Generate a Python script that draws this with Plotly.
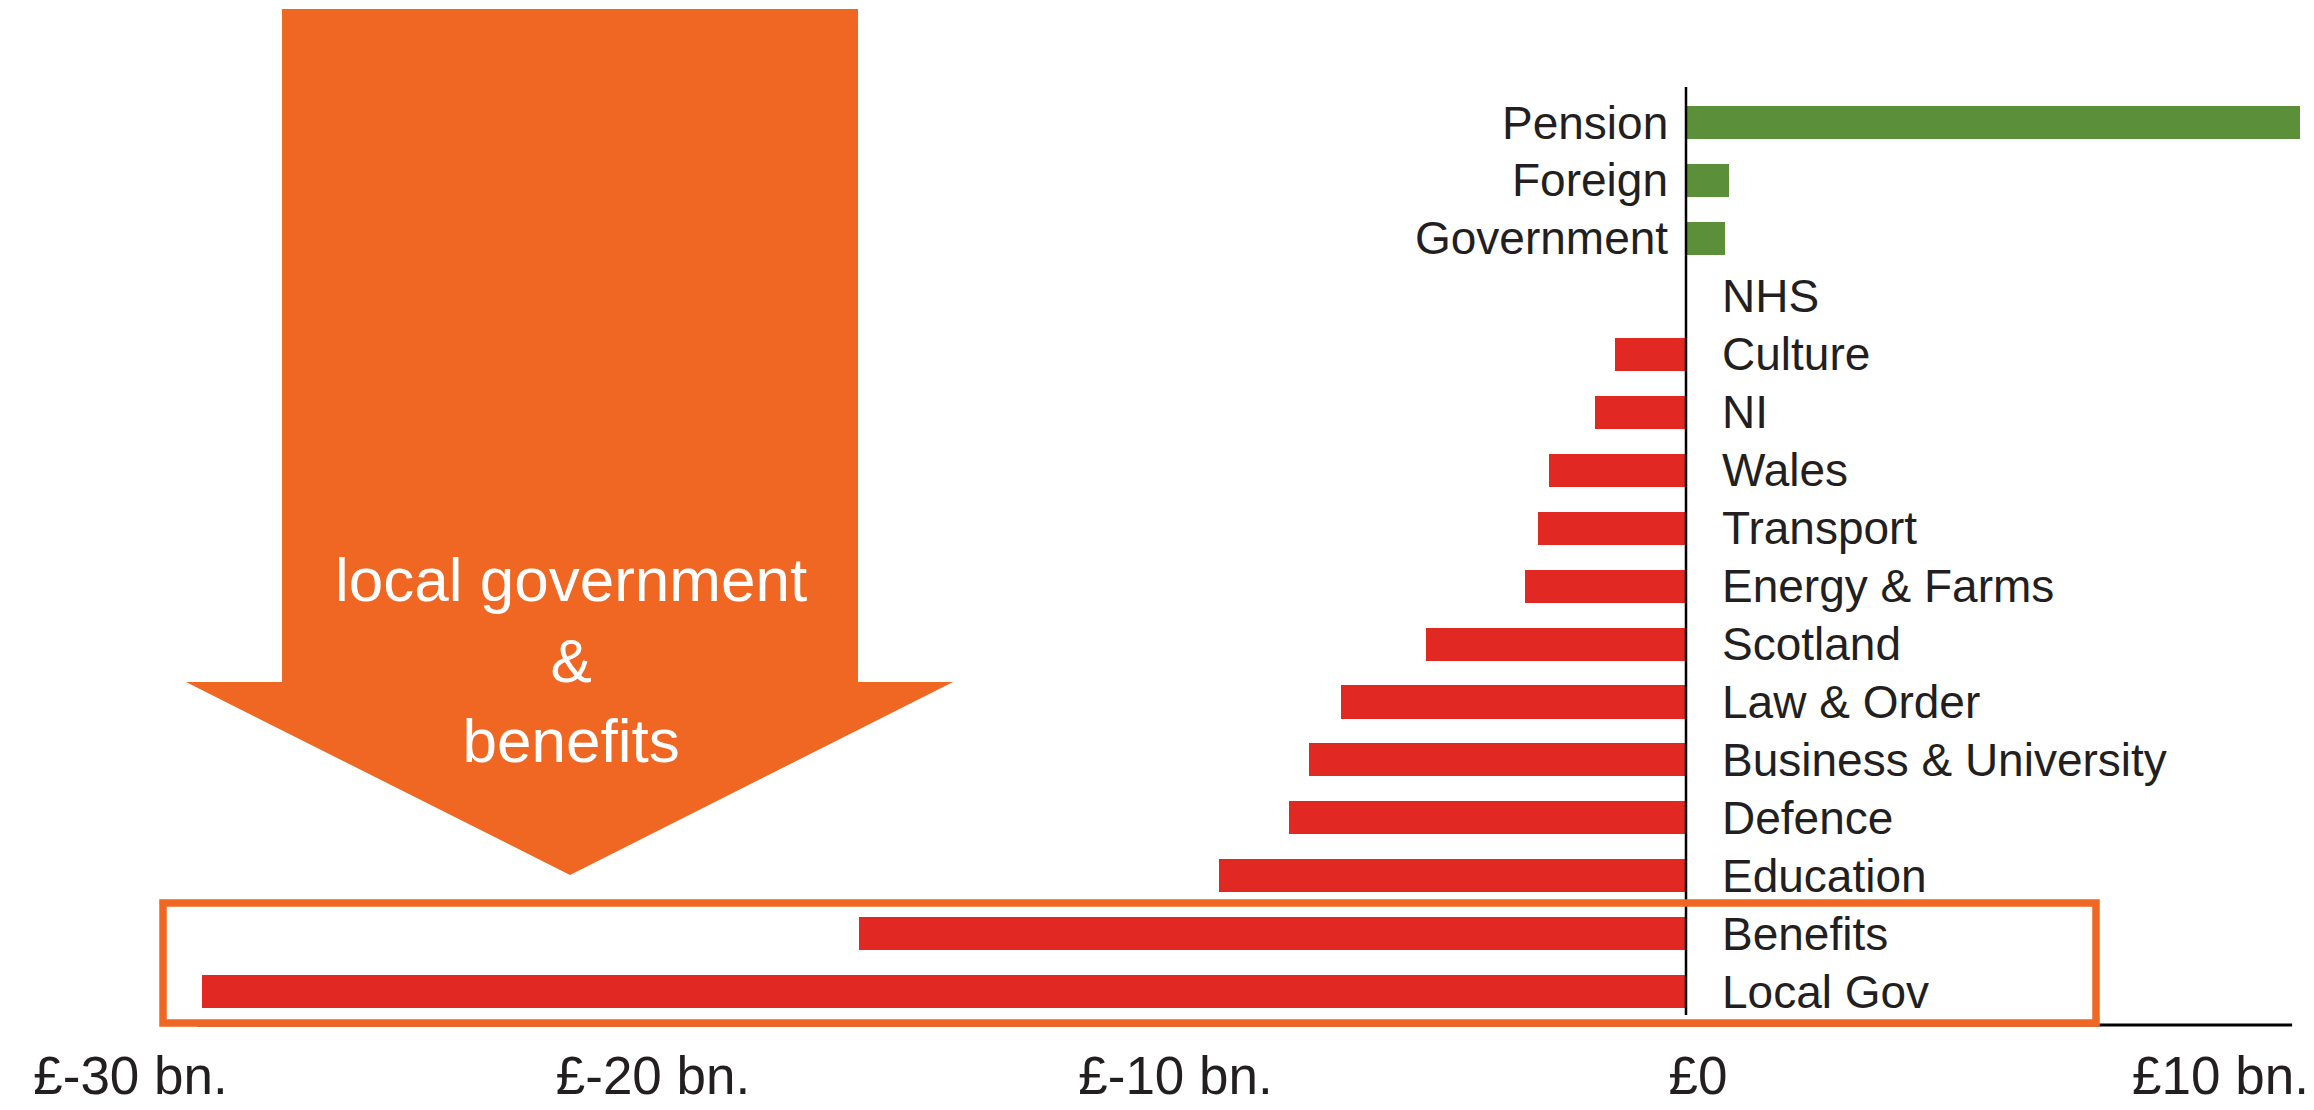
import plotly.graph_objects as go

# ---- data ----
categories = ["Pension", "Foreign", "Government", "NHS", "Culture", "NI", "Wales",
              "Transport", "Energy & Farms", "Scotland", "Law & Order",
              "Business & University", "Defence", "Education", "Benefits", "Local Gov"]
values = [11.75, 0.82, 0.75, 0.0, -1.36, -1.74, -2.62, -2.84, -3.08, -4.98,
          -6.60, -7.22, -7.60, -8.94, -15.83, -28.4]
tick_vals = [-30, -20, -10, 0, 10]
tick_text = ["£-30 bn.", "£-20 bn.", "£-10 bn.", "£0", "£10 bn."]
callout_text = "local government<br>&<br>benefits"

OFF = 8  # page body margin
W, H = 2314 - OFF, 1110 - OFF
PLOT_BOTTOM = 1025 - OFF  # pixel in figure coords
ZERO_X = 1686 - OFF
PX_PER_BN = 52.25
ROW = 57.95
FIRST_ROW_Y = 122.5 - OFF

GREEN = "#5B8F3A"
RED = "#E22822"
ORANGE = "#F06724"
TEXT = "#231F20"
FONT = "Liberation Sans, Arial, sans-serif"

def px(x):  # reference pixel -> paper x
    return (x - OFF) / W

def py(y):  # reference pixel -> paper y
    return 1 - (y - OFF) / PLOT_BOTTOM

colors = [GREEN if v > 0 else RED for v in values]

fig = go.Figure()
fig.add_trace(go.Bar(
    y=categories, x=values, orientation="h",
    marker=dict(color=colors, line=dict(width=0)),
    width=0.57, hoverinfo="x+y",
))

annotations = []
for c, v in zip(categories, values):
    if v > 0:
        annotations.append(dict(x=0, y=c, xref="x", yref="y", text=c, showarrow=False,
                                xanchor="right", yanchor="middle", xshift=-16,
                                font=dict(family=FONT, size=46, color=TEXT)))
    else:
        annotations.append(dict(x=0, y=c, xref="x", yref="y", text=c, showarrow=False,
                                xanchor="left", yanchor="middle", xshift=34,
                                font=dict(family=FONT, size=46, color=TEXT)))

annotations.append(dict(x=px(571), y=py(660), xref="paper", yref="paper",
                        text=callout_text, showarrow=False, xanchor="center",
                        yanchor="middle", align="center",
                        font=dict(family=FONT, size=62, color="white")))

shapes = []
shapes.append(dict(type="line", xref="x", yref="paper", x0=-28.5, x1=11.6, y0=0, y1=0,
                   line=dict(color="black", width=3), layer="above"))
shapes.append(dict(type="line", xref="x", yref="paper", x0=0, x1=0,
                   y0=py(87), y1=py(1015), line=dict(color="black", width=2.5), layer="above"))
arrow_path = (f"M {px(282)},{py(9)} L {px(858)},{py(9)} L {px(858)},{py(682)} "
              f"L {px(953)},{py(682)} L {px(570)},{py(875)} L {px(186)},{py(682)} "
              f"L {px(282)},{py(682)} Z")
shapes.append(dict(type="path", xref="paper", yref="paper", path=arrow_path,
                   fillcolor=ORANGE, line=dict(width=0), layer="below"))
shapes.append(dict(type="rect", xref="paper", yref="paper",
                   x0=px(163), x1=px(2096), y0=py(903), y1=py(1023),
                   line=dict(color=ORANGE, width=7.5), fillcolor="rgba(0,0,0,0)",
                   layer="above"))

x0 = -ZERO_X / PX_PER_BN
x1 = (W - ZERO_X) / PX_PER_BN
y_top = -FIRST_ROW_Y / ROW
y_bot = (PLOT_BOTTOM - FIRST_ROW_Y) / ROW

fig.update_layout(
    width=W, height=H,
    margin=dict(l=0, r=0, t=0, b=H - PLOT_BOTTOM, autoexpand=False),
    paper_bgcolor="white", plot_bgcolor="white",
    showlegend=False,
    bargap=0,
    xaxis=dict(range=[x0, x1], tickvals=tick_vals, ticktext=tick_text,
               showgrid=False, zeroline=False, showline=False,
               ticks="", ticklabelstandoff=15, ticklabelshift=12, automargin=False,
               tickfont=dict(family=FONT, size=53, color=TEXT), fixedrange=True),
    yaxis=dict(range=[y_bot, y_top], showticklabels=False, showgrid=False,
               zeroline=False, showline=False, ticks="", automargin=False,
               categoryorder="array", categoryarray=categories, fixedrange=True),
    annotations=annotations,
    shapes=shapes,
)

fig.write_html("out.html")
